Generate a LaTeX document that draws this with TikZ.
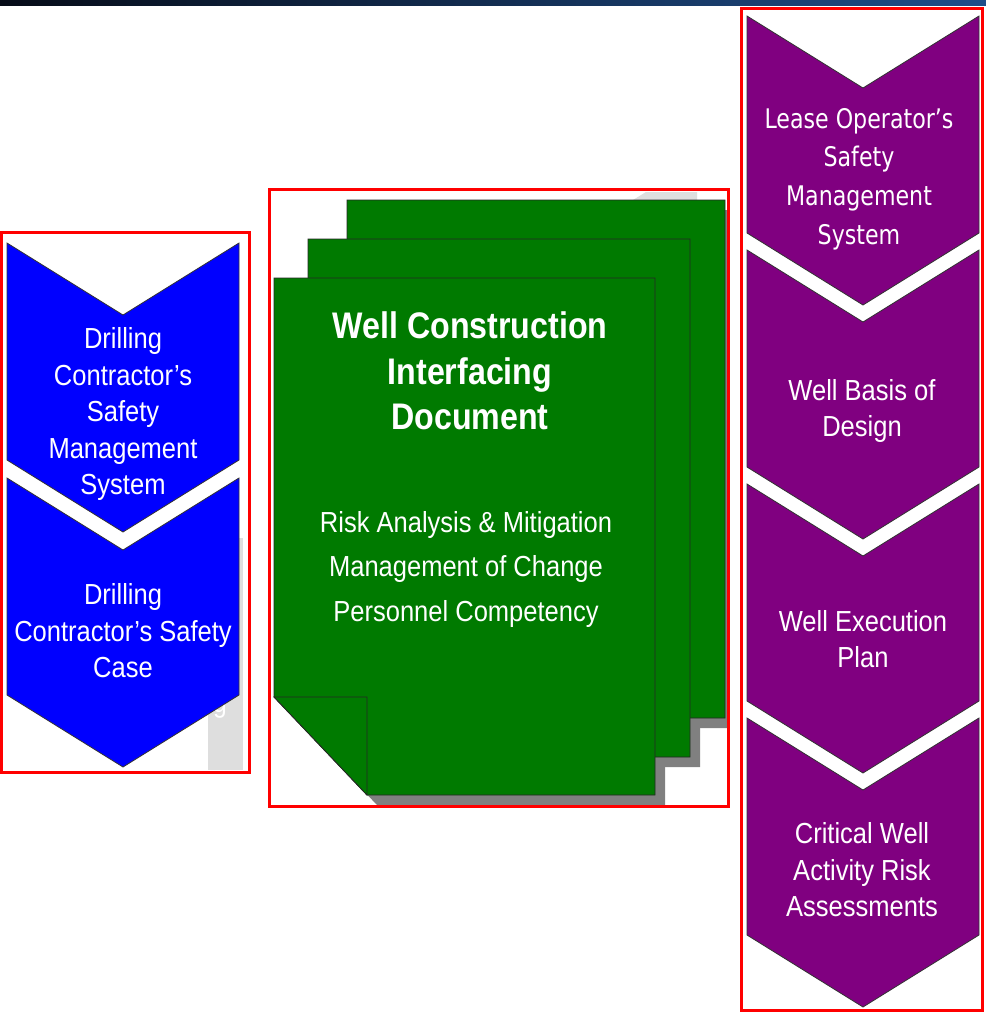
\documentclass[tikz,border=0pt]{standalone}
\usepackage{fontspec}
\newfontfamily\arialn[FakeStretch=0.88]{Liberation Sans}
\newfontfamily\titlefont[FakeStretch=0.87]{Liberation Sans}
\newfontfamily\tahfont[FakeStretch=0.82]{DejaVu Sans}
\definecolor{chevblue}{RGB}{0,0,255}
\definecolor{chevpurple}{RGB}{128,0,128}
\definecolor{pagegreen}{RGB}{0,122,0}
\definecolor{framered}{RGB}{255,0,0}
\definecolor{barleft}{RGB}{6,12,24}
\definecolor{barright}{RGB}{31,78,138}
\definecolor{ghost}{RGB}{222,222,222}

% chevron: top-left corner, fill colour
\newcommand{\chevshape}[3]{%
  \draw[chevline, fill=#3] (#1,#2) -- ++(116,72) -- ++(116,-72) -- ++(0,217)
    -- ++(-116,72) -- ++(-116,-72) -- cycle;}
% page with a turned-down bottom-left corner: style, x0, y0, x1, y1
\newcommand{\pageshape}[5]{%
  \path[#1] (#2,#3) -- (#4,#3) -- (#4,#5) -- ($(#2,#5)+(93,0)$)
    -- ($(#2,#5)+(0,-98)$) -- cycle;}

\usetikzlibrary{calc}
\begin{document}
\begin{tikzpicture}[x=1pt, y=-1pt,
  chevline/.style={draw=black!80, line width=0.8pt},
  frame/.style={draw=framered, line width=3pt},
  page/.style={draw=black!85, line width=0.8pt, fill=pagegreen},
  pageshadow/.style={fill=black!50},
  bodytext/.style={text=white, align=center, inner sep=0pt,
    font=\arialn\fontsize{29}{36.5}\selectfont},
  optext/.style={text=white, align=center, inner sep=0pt,
    font=\tahfont\fontsize{27}{38.7}\selectfont},
  titletext/.style={text=white, align=center, inner sep=0pt,
    font=\titlefont\bfseries\fontsize{37}{45.5}\selectfont},
  listtext/.style={text=white, align=center, inner sep=0pt,
    font=\arialn\fontsize{29}{44.5}\selectfont}]
\useasboundingbox (0,0) rectangle (986,1013);
\fill[white] (0,0) rectangle (986,1013);

% header band
\shade[left color=barleft, right color=barright] (0,0) rectangle (986,5);

% ---------- drilling contractor column ----------
\fill[ghost] (208,538) rectangle (243,770);
\node[anchor=base, text=white, inner sep=0pt,
  font=\arialn\fontsize{28}{30}\selectfont] (ghostg) at (220,712) {g};
\chevshape{7}{243}{chevblue}
\chevshape{7}{478}{chevblue}
\node[bodytext] (dcsms) at (123,414)
  {Drilling\\Contractor’s\\Safety\\Management\\System};
\node[bodytext] (dcsc) at (123,631)
  {Drilling\\Contractor’s Safety\\Case};
\draw[frame] (1.5,232) rectangle (249,772);

% ---------- interfacing document stack ----------
\fill[ghost] (633,200) -- (646,192) -- (697,192) -- (697,200) -- cycle;
\begin{scope}
  \clip (270,190) rectangle (727,805);
  \pageshape{pageshadow}{357}{210}{735}{728}
  \pageshape{pageshadow}{318}{249}{700}{767}
  \pageshape{pageshadow}{284}{288}{665}{805}
\end{scope}
\pageshape{page}{347}{200}{725}{718}
\pageshape{page}{308}{239}{690}{757}
\pageshape{page}{274}{278}{655}{795}
\draw[page] (274,697) -- (367,697) -- (367,795) -- cycle;
\node[titletext] (wcid) at (470,371)
  {Well Construction\\Interfacing\\Document};
\node[listtext] (wcidlist) at (466,569)
  {Risk Analysis \& Mitigation\\Management of Change\\Personnel Competency};
\draw[frame] (269,189) rectangle (728,806);

% ---------- lease operator column ----------
\chevshape{747}{16}{chevpurple}
\chevshape{747}{250}{chevpurple}
\chevshape{747}{484}{chevpurple}
\chevshape{747}{718}{chevpurple}
\node[optext] (losms) at (859,179)
  {Lease Operator’s\\Safety\\Management\\System};
\node[bodytext] (wbod) at (862,411) {Well Basis of\\Design};
\node[bodytext] (wep) at (863,639) {Well Execution\\Plan};
\node[bodytext] (cwara) at (862,870)
  {Critical Well\\Activity Risk\\Assessments};
\draw[frame] (741,8) rectangle (982,1010);
\end{tikzpicture}
\end{document}
